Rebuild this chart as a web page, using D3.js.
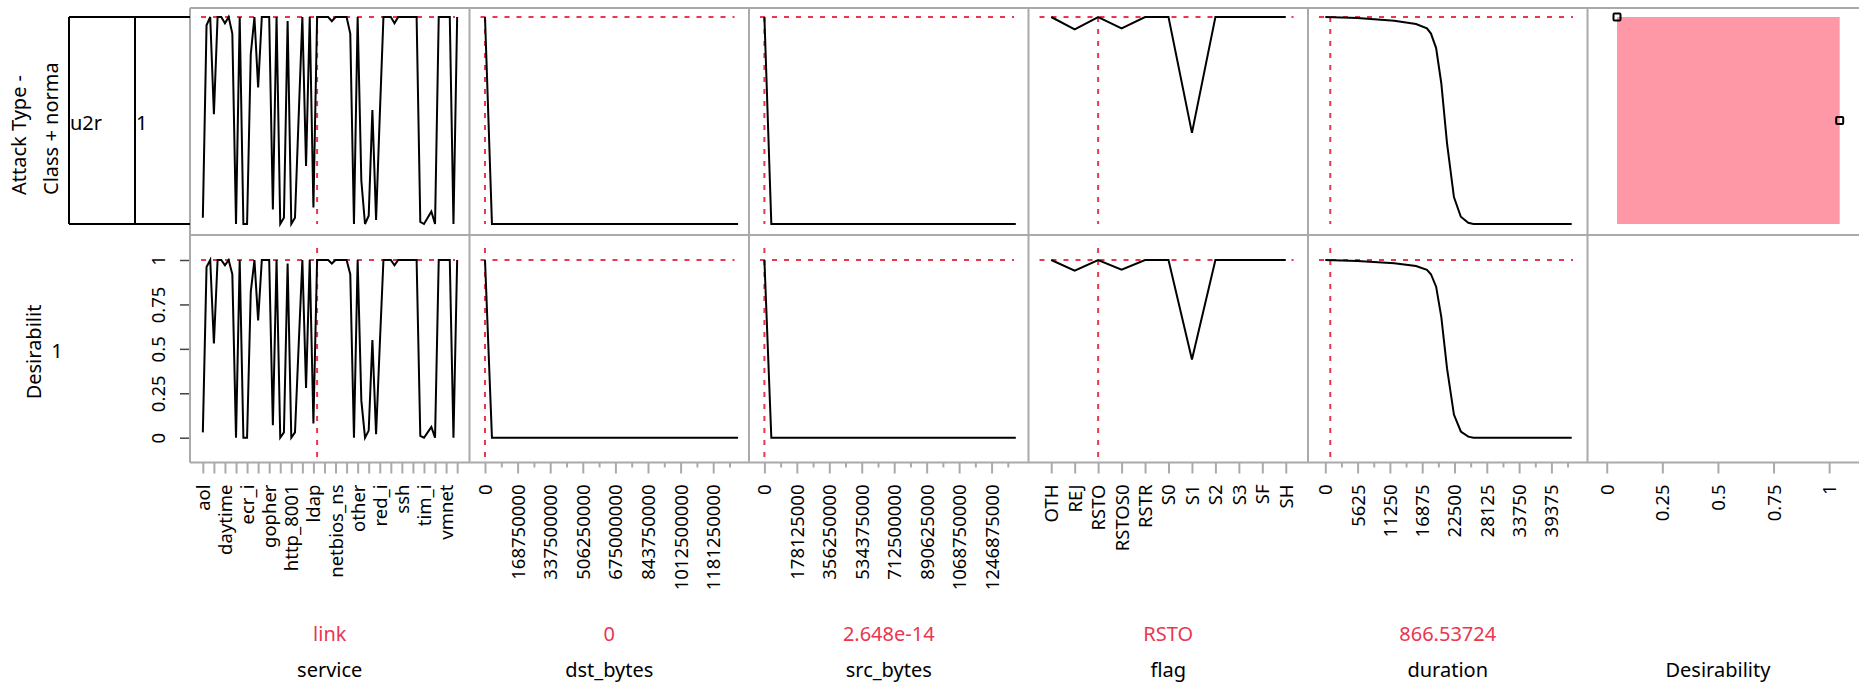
<!DOCTYPE html>
<html>
<head>
<meta charset="utf-8">
<script src="https://cdn.jsdelivr.net/npm/d3@7"></script>
<style>
body { margin: 0; background: #fff; }
svg { display: block; font-family: "Noto Sans", sans-serif; }
</style>
</head>
<body>
<div id="chart"></div>
<script>
const serviceLevels = ['aol','auth','bgp','courier','csnet_ns','ctf','daytime','discard','domain','domain_u',
    'echo','eco_i','ecr_i','efs','exec','finger','ftp','ftp_data','gopher','harvest',
    'hostnames','http','http_2784','http_443','http_8001','imap4','IRC','iso_tsap','klogin','kshell',
    'ldap','link','login','mtp','name','netbios_dgm','netbios_ns','netbios_ssn','netstat','nnsp',
    'nntp','ntp_u','other','pm_dump','pop_2','pop_3','printer','private','red_i','remote_job',
    'rje','shell','smtp','sql_net','ssh','sunrpc','supdup','systat','telnet','tftp_u',
    'tim_i','time','urh_i','urp_i','uucp','uucp_path','vmnet','whois','X11','Z39_50'];
const serviceDesirability = [0.03, 0.96, 1, 0.53, 1, 1, 0.97, 1, 0.92, 0,
    1, 0, 0, 0.82, 1, 0.66, 1, 1, 1, 0.07,
    1, 0, 0.03, 0.98, 0, 0.03, 0.52, 1, 0.28, 1,
    0.08, 1, 1, 1, 1, 0.98, 1, 1, 1, 1,
    0.92, 0, 1, 0.21, 0, 0.04, 0.55, 0.02, 0.52, 1,
    1, 1, 0.97, 1, 1, 1, 1, 1, 1, 0.01,
    0, 0.03, 0.06, 0, 1, 1, 1, 1, 0, 1];
const serviceTickLabels = ['aol','daytime','ecr_i','gopher','http_8001','ldap','netbios_ns','other','red_i','ssh','tim_i','vmnet'];

const dstBytes = [0, 36000000, 1309937401];
const dstDesirability = [1, 0, 0];
const dstTicks = [0, 168750000, 337500000, 506250000, 675000000, 843750000, 1012500000, 1181250000];

const srcBytes = [0, 38000000, 1379963888];
const srcDesirability = [1, 0, 0];
const srcTicks = [0, 178125000, 356250000, 534375000, 712500000, 890625000, 1068750000, 1246875000];

const flagLevels = ['OTH','REJ','RSTO','RSTOS0','RSTR','S0','S1','S2','S3','SF','SH'];
const flagDesirability = [1, 0.94, 1, 0.945, 1, 1, 0.44, 1, 1, 1, 1];

const duration = [0, 5600, 12000, 15800, 17700, 18400, 19300, 20200, 21200, 22400, 23600, 24900, 25800, 42908];
const durationDesirability = [1, 0.995, 0.982, 0.966, 0.945, 0.92, 0.85, 0.68, 0.39, 0.13, 0.035, 0.006, 0, 0];
const durationTicks = [0, 5625, 11250, 16875, 22500, 28125, 33750, 39375];

const desirabilityTicks = [0, 0.25, 0.5, 0.75, 1];
const u2rHandles = [[0, 1], [1, 0.5]];

// ---- layout ----
const width = 1859;
const height = 686;
const colLeft = [190, 469.5, 749, 1028.5, 1308, 1587.5];
const rowTop = [8, 235];
const axisY = 462.5;
const red = '#eb3650';
const grey = '#aaaaaa';
const tickFont = 18.5;

const yTop = d3.scaleLinear().domain([0, 1]).range([224, 17]);
const yBot = d3.scaleLinear().domain([0, 1]).range([437.7, 260]);
const yScales = [yTop, yBot];

const svg = d3.select('#chart')
    .append('svg')
    .attr('width', width)
    .attr('height', height);

// factor columns
const factors = [
    { name: 'service', cat: true, levels: serviceLevels, xs: serviceLevels, ys: serviceDesirability,
      current: 'link', currentText: 'link',
      ticks: serviceLevels.filter((d, i) => i % 3 === 0), labels: serviceTickLabels },
    { name: 'dst_bytes', cat: false, limits: [-23300000, 1312200000], xs: dstBytes, ys: dstDesirability,
      current: 0, currentText: '0', ticks: dstTicks },
    { name: 'src_bytes', cat: false, limits: [-24150000, 1392000000], xs: srcBytes, ys: srcDesirability,
      current: 2.648e-14, currentText: '2.648e-14', ticks: srcTicks },
    { name: 'flag', cat: true, levels: flagLevels, xs: flagLevels, ys: flagDesirability,
      current: 'RSTO', currentText: 'RSTO', ticks: flagLevels, labels: flagLevels },
    { name: 'duration', cat: false, limits: [-1097, 43833], xs: duration, ys: durationDesirability,
      current: 866.53724, currentText: '866.53724', ticks: durationTicks }
];

factors.forEach((f, c) => {
    const L = colLeft[c];
    const x = f.cat
        ? d3.scalePoint().domain(f.levels).range([L + 11, L + 269]).padding(0.5)
        : d3.scaleLinear().domain(f.limits).range([L + 11, L + 269]);

    yScales.forEach((y, r) => {
        // current value cross-hairs
        svg.append('line')
            .attr('x1', L + 11).attr('x2', L + 265)
            .attr('y1', y(1)).attr('y2', y(1))
            .attr('stroke', red).attr('stroke-width', 2)
            .attr('stroke-dasharray', '5,7');
        svg.append('line')
            .attr('x1', x(f.current)).attr('x2', x(f.current))
            .attr('y1', r === 0 ? y(1) : rowTop[1] + 13)
            .attr('y2', r === 0 ? y(0) : axisY)
            .attr('stroke', red).attr('stroke-width', 2)
            .attr('stroke-dasharray', '5,7');

        // profile trace
        const line = d3.line()
            .x(d => x(d[0]))
            .y(d => y(d[1]));
        svg.append('path')
            .datum(f.xs.map((v, i) => [v, f.ys[i]]))
            .attr('d', line)
            .attr('fill', 'none')
            .attr('stroke', '#000')
            .attr('stroke-width', 2);
    });

    // bottom axis
    const axisG = svg.append('g').attr('transform', `translate(0, ${axisY})`);
    if (!f.cat) {
        const step = f.ticks[1] - f.ticks[0];
        const minor = f.ticks.map(t => t + step / 2);
        axisG.append('g')
            .call(d3.axisBottom(x).tickValues(minor).tickSize(5).tickFormat(''));
    }
    const major = axisG.append('g')
        .call(d3.axisBottom(x).tickValues(f.ticks).tickSize(11)
            .tickFormat(d => f.cat ? (f.labels.includes(d) ? d : '') : String(d)));
    major.selectAll('text')
        .attr('transform', 'rotate(-90)')
        .attr('text-anchor', 'end')
        .attr('x', -22)
        .attr('y', 0)
        .attr('dy', '0.35em')
        .attr('font-size', tickFont)
        .attr('font-family', '"Noto Sans", sans-serif')
        .attr('fill', '#000');

    // current value and factor name
    svg.append('text')
        .attr('x', L + 139.75).attr('y', 641)
        .attr('text-anchor', 'middle')
        .attr('font-size', 20)
        .attr('fill', red)
        .text(f.currentText);
    svg.append('text')
        .attr('x', L + 139.75).attr('y', 677)
        .attr('text-anchor', 'middle')
        .attr('font-size', 20)
        .attr('fill', '#000')
        .text(f.name);
});

// desirability column
const dL = colLeft[5];
const dScale = d3.scaleLinear().domain([-0.037, 1.123]).range([dL + 11, dL + 269]);
const barScale = d3.scaleLinear().domain([0, 1]).range([dL + 29.5, dL + 252.2]);

svg.append('rect')
    .attr('x', barScale(0))
    .attr('y', yTop(1))
    .attr('width', barScale(1) - barScale(0))
    .attr('height', yTop(0) - yTop(1))
    .attr('fill', '#fe98a6');

svg.selectAll('rect.handle')
    .data(u2rHandles)
    .enter()
    .append('rect')
    .attr('class', 'handle')
    .attr('x', d => barScale(d[0]) - 3.5)
    .attr('y', d => yTop(d[1]) - 3.5)
    .attr('width', 7)
    .attr('height', 7)
    .attr('rx', 1)
    .attr('fill', 'none')
    .attr('stroke', '#000')
    .attr('stroke-width', 2);

const dAxis = svg.append('g')
    .attr('transform', `translate(0, ${axisY})`)
    .call(d3.axisBottom(dScale).tickValues(desirabilityTicks).tickSize(11).tickFormat(d => String(d)));
dAxis.selectAll('text')
    .attr('transform', 'rotate(-90)')
    .attr('text-anchor', 'end')
    .attr('x', -22)
    .attr('y', 0)
    .attr('dy', '0.35em')
    .attr('font-size', tickFont)
    .attr('font-family', '"Noto Sans", sans-serif')
    .attr('fill', '#000');

svg.append('text')
    .attr('x', dScale(0.5)).attr('y', 677)
    .attr('text-anchor', 'middle')
    .attr('font-size', 20)
    .text('Desirability');

// style all bottom axes
svg.selectAll('.domain').remove();
svg.selectAll('.tick line').attr('stroke', grey).attr('stroke-width', 2);

// left y axis on the desirability row
const yAxis = svg.append('g')
    .attr('transform', `translate(${colLeft[0]}, 0)`)
    .call(d3.axisLeft(yBot).tickValues(desirabilityTicks).tickSize(10).tickFormat(d => String(d)));
yAxis.select('.domain').remove();
yAxis.selectAll('.tick line').attr('stroke', '#444').attr('stroke-width', 1.5);
yAxis.selectAll('text')
    .attr('transform', 'rotate(-90)')
    .attr('text-anchor', 'middle')
    .attr('x', 0)
    .attr('y', -25)
    .attr('dy', 0)
    .attr('font-size', tickFont)
    .attr('font-family', '"Noto Sans", sans-serif')
    .attr('fill', '#000');

// panel frame
colLeft.forEach(x0 => {
    svg.append('line')
        .attr('x1', x0).attr('x2', x0)
        .attr('y1', rowTop[0]).attr('y2', axisY)
        .attr('stroke', grey).attr('stroke-width', 2);
});
[rowTop[0], rowTop[1], axisY].forEach(y0 => {
    svg.append('line')
        .attr('x1', colLeft[0]).attr('x2', width)
        .attr('y1', y0).attr('y2', y0)
        .attr('stroke', grey).attr('stroke-width', 2);
});

// categorical response box (top left)
const box = svg.append('g').attr('stroke', '#000').attr('stroke-width', 2);
box.append('line').attr('x1', 69).attr('x2', 190).attr('y1', yTop(1)).attr('y2', yTop(1));
box.append('line').attr('x1', 69).attr('x2', 190).attr('y1', yTop(0)).attr('y2', yTop(0));
box.append('line').attr('x1', 69).attr('x2', 69).attr('y1', yTop(1)).attr('y2', yTop(0));
box.append('line').attr('x1', 135).attr('x2', 135).attr('y1', yTop(1)).attr('y2', yTop(0));

svg.append('text').attr('x', 70).attr('y', 130).attr('font-size', 20).text('u2r');
svg.append('text').attr('x', 136).attr('y', 130).attr('font-size', 20).text('1');

// response labels
svg.append('text')
    .attr('transform', 'translate(26, 195) rotate(-90)')
    .attr('font-size', 20)
    .text('Attack Type -');
svg.append('text')
    .attr('transform', 'translate(58, 195) rotate(-90)')
    .attr('font-size', 20)
    .text('Class + norma');

svg.append('text')
    .attr('transform', 'translate(41, 352) rotate(-90)')
    .attr('text-anchor', 'middle')
    .attr('font-size', 20)
    .text('Desirabilit');
svg.append('text')
    .attr('x', 57).attr('y', 358)
    .attr('text-anchor', 'middle')
    .attr('font-size', 20)
    .text('1');
</script>
</body>
</html>
